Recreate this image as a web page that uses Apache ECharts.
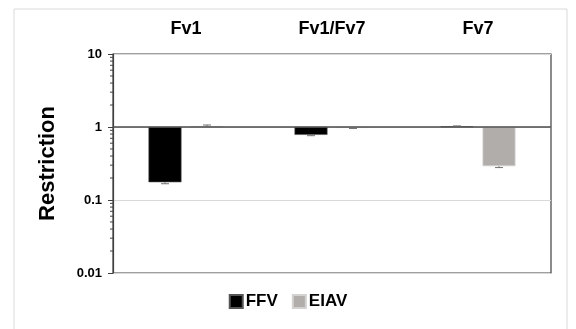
<!DOCTYPE html>
<html>
<head>
<meta charset="utf-8">
<style>
  html, body { margin: 0; padding: 0; background: #fff; }
  #chart { width: 576px; height: 329px; }
</style>
<script src="https://cdn.jsdelivr.net/npm/echarts@6/dist/echarts.min.js"></script>
</head>
<body>
<div id="chart"></div>
<script>
// Restriction of FFV and EIAV by Fv1, Fv1/Fv7 and Fv7
const categories = ['Fv1', 'Fv1/Fv7', 'Fv7'];
const seriesNames = ['FFV', 'EIAV'];
const ffvValues = [0.175, 0.78, 1.02];
const eiavValues = [1.03, 0.97, 0.29];
const ffvErrors = [0.008, 0.02, 0.015];
const eiavErrors = [0.035, 0.015, 0.012];
const yTickLabels = { '0.01': '0.01', '0.1': '0.1', '1': '1', '10': '10' };
const minorTickValues = [];
[0.01, 0.1, 1].forEach(function (d) {
  for (let k = 2; k <= 9; k++) minorTickValues.push(+(d * k).toPrecision(3));
});

const FONT = '"Liberation Sans", Arial, sans-serif';
const BAR_WIDTH = 33;
const BAR_GAP_PX = 9;
const colors = ['#000000', '#b0adab'];

const chart = echarts.init(document.getElementById('chart'), null, { renderer: 'canvas' });

function errorRenderer(seriesIndex) {
  const offset = (seriesIndex === 0 ? -1 : 1) * (BAR_WIDTH + BAR_GAP_PX) / 2;
  return function (params, api) {
    const cat = api.value(0);
    const v = api.value(1);
    const e = api.value(2);
    const end = v < 1 ? v - e : v + e;
    const p0 = api.coord([cat, v]);
    const p1 = api.coord([cat, end]);
    const x = p0[0] + offset;
    const style = { stroke: '#707070', lineWidth: 1 };
    return {
      type: 'group',
      children: [
        { type: 'line', shape: { x1: x, y1: p0[1], x2: x, y2: p1[1] }, style: style },
        { type: 'line', shape: { x1: x - 4, y1: p1[1], x2: x + 4, y2: p1[1] }, style: style }
      ]
    };
  };
}

const option = {
  animation: false,
  backgroundColor: '#ffffff',
  graphic: [{
    type: 'rect',
    shape: { x: 14, y: 9, width: 553, height: 340 },
    style: { fill: 'none', stroke: '#d9d9d9', lineWidth: 1 },
    silent: true
  }],
  grid: {
    left: 113, top: 54, right: 25, bottom: 56,
    show: true, borderColor: '#404040', borderWidth: 1.2, backgroundColor: 'transparent'
  },
  legend: {
    data: seriesNames,
    left: 'center',
    top: 288,
    icon: 'rect',
    itemWidth: 13,
    itemHeight: 13,
    itemGap: 14,
    textStyle: { fontFamily: FONT, fontWeight: 'bold', fontSize: 17, color: '#000', padding: [0, 0, 0, -2] }
  },
  xAxis: {
    type: 'category',
    data: categories,
    position: 'top',
    axisLine: { show: false },
    axisTick: { show: false },
    axisLabel: { fontFamily: FONT, fontWeight: 'bold', fontSize: 18, color: '#000', margin: 16 },
    splitLine: { show: false }
  },
  yAxis: {
    type: 'log',
    logBase: 10,
    min: 0.01,
    max: 10,
    name: 'Restriction',
    nameLocation: 'middle',
    nameRotate: 90,
    nameGap: 54,
    nameTextStyle: { fontFamily: FONT, fontWeight: 'bold', fontSize: 22, color: '#000' },
    axisLine: { show: true, lineStyle: { color: '#404040', width: 1.2 } },
    axisTick: { show: true, inside: false, length: 5, lineStyle: { color: '#404040' } },
    axisLabel: {
      fontFamily: FONT, fontWeight: 'bold', fontSize: 13, color: '#000', margin: 11,
      formatter: function (v) {
        const key = String(+v.toPrecision(3));
        return yTickLabels[key] !== undefined ? yTickLabels[key] : '';
      }
    },
    splitLine: { show: true, lineStyle: { color: '#d9d9d9', width: 1 } }
  },
  series: [
    {
      name: 'FFV',
      type: 'bar',
      data: ffvValues,
      barWidth: BAR_WIDTH,
      barGap: (BAR_GAP_PX / BAR_WIDTH * 100).toFixed(1) + '%',
      itemStyle: { color: colors[0], borderColor: '#555', borderWidth: 0.6 },
      markLine: {
        silent: true,
        symbol: 'none',
        label: { show: false },
        lineStyle: { color: '#4a4a4a', width: 1.6, type: 'solid' },
        data: [{ yAxis: 1 }]
      }
    },
    {
      name: 'EIAV',
      type: 'bar',
      data: eiavValues,
      barWidth: BAR_WIDTH,
      itemStyle: { color: colors[1], borderColor: '#d4d2d0', borderWidth: 0.8 }
    },
    {
      type: 'custom',
      silent: true,
      z: 5,
      data: ffvValues.map(function (v, i) { return [i, v, ffvErrors[i]]; }),
      renderItem: errorRenderer(0)
    },
    {
      type: 'custom',
      silent: true,
      z: 5,
      data: eiavValues.map(function (v, i) { return [i, v, eiavErrors[i]]; }),
      renderItem: errorRenderer(1)
    },
    {
      // minor log ticks on the value axis, placed through the axis scale
      type: 'custom',
      silent: true,
      clip: false,
      data: minorTickValues.map(function (v) { return [0, v]; }),
      renderItem: function (params, api) {
        const y = api.coord([0, api.value(1)])[1];
        const x = params.coordSys.x;
        return {
          type: 'line',
          shape: { x1: x - 3, y1: y, x2: x, y2: y },
          style: { stroke: '#404040', lineWidth: 1 }
        };
      }
    }
  ],
  color: colors
};

chart.setOption(option);
</script>
</body>
</html>
